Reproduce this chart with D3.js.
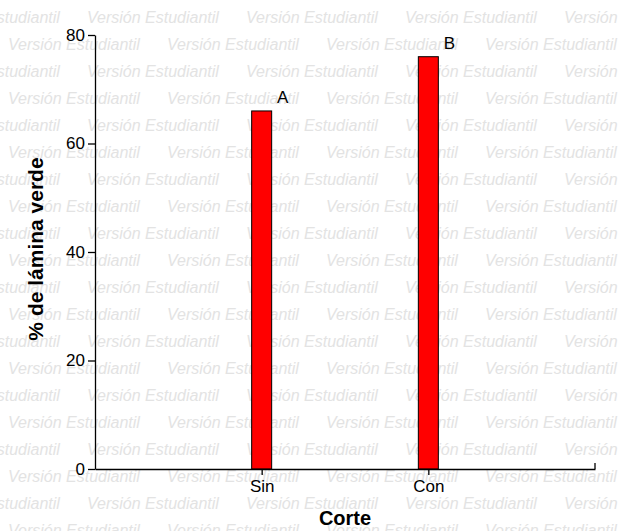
<!DOCTYPE html>
<html>
<head>
<meta charset="utf-8">
<script src="https://cdn.jsdelivr.net/npm/d3@7"></script>
<style>
  html, body { margin: 0; padding: 0; background: #ffffff; }
  svg { display: block; font-family: "Liberation Sans", Arial, sans-serif; }
</style>
</head>
<body>
<svg id="chart" width="619" height="531"></svg>
<script>
// Percentage of green leaf blade, without and with cutting
const categories = ["Sin", "Con"];
const values = [66, 76];
const groupLetters = ["A", "B"];
const yTicks = [0, 20, 40, 60, 80];
const watermarkText = "Versión Estudiantil";

const W = 619, H = 531;
const margin = { left: 95, right: 24, top: 35, bottom: 62 };
const x0 = margin.left, x1 = W - margin.right;
const yTop = margin.top, yBottom = H - margin.bottom;

const svg = d3.select("#chart");

// Background watermark lines
const wm = svg.append("g")
  .attr("fill", "#e3e3e3")
  .attr("font-size", 16)
  .attr("font-style", "italic");
const period = 159, rowStep = 27;
for (let r = 0; r < 21; r++) {
  const startX = (r % 2 === 0) ? -72 : 8;
  const yy = 23 + r * rowStep;
  for (let xx = startX; xx < W; xx += period) {
    wm.append("text").attr("x", xx).attr("y", yy).text(watermarkText);
  }
}

const x = d3.scalePoint().domain(categories).range([x0, x1]).padding(1);
const y = d3.scaleLinear().domain([0, 80]).range([yBottom, yTop]);
const barW = 20;

// Bars
svg.append("g").selectAll("rect")
  .data(categories)
  .join("rect")
  .attr("x", d => x(d) - barW / 2)
  .attr("y", (d, i) => y(values[i]))
  .attr("width", barW)
  .attr("height", (d, i) => y(0) - y(values[i]))
  .attr("fill", "#ff0000")
  .attr("stroke", "#000")
  .attr("stroke-width", 1);

// Significance letters
svg.append("g").selectAll("text")
  .data(categories)
  .join("text")
  .attr("x", d => x(d) + 21)
  .attr("y", (d, i) => y(values[i]) - 8)
  .attr("text-anchor", "middle")
  .attr("font-size", 17)
  .attr("fill", "#000")
  .text((d, i) => groupLetters[i]);

// Y axis
const yAxis = svg.append("g")
  .attr("transform", `translate(${x0},0)`)
  .call(d3.axisLeft(y).tickValues(yTicks).tickSize(7).tickPadding(3).tickSizeOuter(0));
yAxis.select(".domain").attr("stroke", "#000").attr("stroke-width", 1.3);
yAxis.selectAll(".tick line").attr("stroke", "#000").attr("stroke-width", 1.3);
yAxis.selectAll(".tick text").attr("font-size", 17).attr("fill", "#000")
  .attr("font-family", "'Liberation Sans', Arial, sans-serif");

// X axis
const xAxis = svg.append("g")
  .attr("transform", `translate(0,${yBottom})`)
  .call(d3.axisBottom(x).tickSize(6).tickPadding(5).tickSizeOuter(0));
xAxis.select(".domain").attr("stroke", "#000").attr("stroke-width", 1.3);
xAxis.selectAll(".tick line").attr("stroke", "#000").attr("stroke-width", 1.3);
xAxis.selectAll(".tick text").attr("font-size", 17).attr("fill", "#000")
  .attr("font-family", "'Liberation Sans', Arial, sans-serif");
// end mark on the right of the x axis
xAxis.append("line")
  .attr("x1", x1).attr("x2", x1).attr("y1", -6).attr("y2", 0)
  .attr("stroke", "#000").attr("stroke-width", 1.3);

// Axis titles
svg.append("text")
  .attr("x", (x0 + x1) / 2)
  .attr("y", 525)
  .attr("text-anchor", "middle")
  .attr("font-size", 20)
  .attr("font-weight", "bold")
  .attr("fill", "#000")
  .text("Corte");

svg.append("text")
  .attr("transform", `translate(43,${(yTop + yBottom) / 2 - 3}) rotate(-90)`)
  .attr("text-anchor", "middle")
  .attr("font-size", 21)
  .attr("font-weight", "bold")
  .attr("fill", "#000")
  .text("% de lámina verde");
</script>
</body>
</html>
